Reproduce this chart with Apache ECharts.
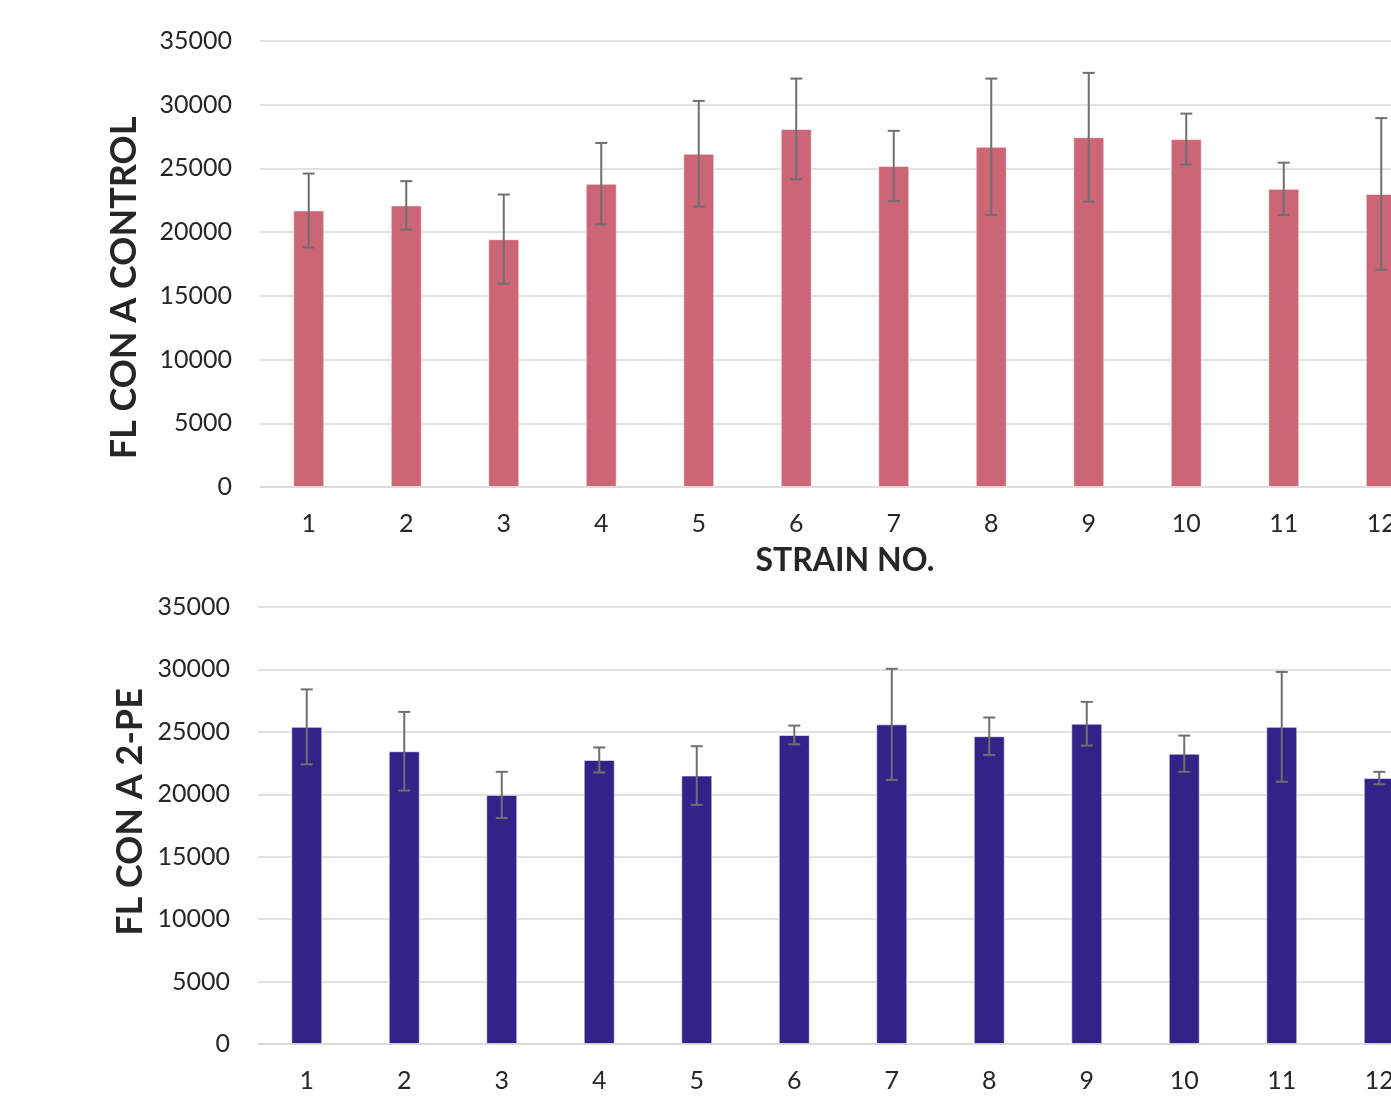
<!DOCTYPE html>
<html>
<head>
<meta charset="utf-8">
<script src="https://cdn.jsdelivr.net/npm/echarts@6/dist/echarts.min.js"></script>
<style>
  html, body { margin: 0; padding: 0; background: #ffffff; }
  #chart { width: 1391px; height: 1106px; }
</style>
</head>
<body>
<div id="chart"></div>
<script>
// Strain numbers on the x axis
const strains = ['1', '2', '3', '4', '5', '6', '7', '8', '9', '10', '11', '12'];
// Fluorescence, Con A control: mean and error (± half-range)
const controlMean = [21700, 22100, 19450, 23800, 26150, 28100, 25200, 26700, 27450, 27300, 23400, 23000];
const controlErr  = [2900, 1900, 3500, 3200, 4150, 3950, 2750, 5350, 5050, 2000, 2050, 5950];
// Fluorescence, Con A with 2-PE: mean and error
const peMean = [25400, 23450, 19950, 22750, 21500, 24750, 25600, 24650, 25650, 23250, 25400, 21300];
const peErr  = [3000, 3150, 1850, 1000, 2350, 750, 4450, 1500, 1750, 1450, 4400, 500];
// y axis scale
const yMin = 0, yMax = 35000, yStep = 5000;

const FONT = 'Lato';
const chart = echarts.init(document.getElementById('chart'), null, { renderer: 'canvas' });

function errData(mean, err) {
  return mean.map((m, i) => [i, m - err[i], m + err[i]]);
}

function renderErr(params, api) {
  const lo = api.coord([api.value(0), api.value(1)]);
  const hi = api.coord([api.value(0), api.value(2)]);
  const half = 6;
  const style = { stroke: '#6f6f6f', lineWidth: 2 };
  return {
    type: 'group',
    children: [
      { type: 'line', shape: { x1: lo[0], y1: lo[1], x2: hi[0], y2: hi[1] }, style },
      { type: 'line', shape: { x1: hi[0] - half, y1: hi[1], x2: hi[0] + half, y2: hi[1] }, style },
      { type: 'line', shape: { x1: lo[0] - half, y1: lo[1], x2: lo[0] + half, y2: lo[1] }, style }
    ]
  };
}

const axisLabel = { fontFamily: FONT, fontSize: 25, color: '#262626' };
const gridLine = { lineStyle: { color: '#d9d9d9', width: 1.5 } };

function xAxis(idx, name) {
  return {
    type: 'category', gridIndex: idx, data: strains,
    axisLine: { show: true, lineStyle: { color: '#d9d9d9', width: 1.5 } },
    axisTick: { show: false },
    axisLabel: Object.assign({ margin: 24 }, axisLabel),
    name: name, nameLocation: 'middle', nameGap: 58,
    nameTextStyle: { fontFamily: FONT, fontWeight: 'bold', fontSize: 32, color: '#262626' }
  };
}
function yAxis(idx) {
  return {
    type: 'value', gridIndex: idx, min: yMin, max: yMax, interval: yStep,
    axisLine: { show: false }, axisTick: { show: false },
    axisLabel: Object.assign({ margin: 28, formatter: v => String(v) }, axisLabel),
    splitLine: gridLine
  };
}

chart.setOption({
  animation: false,
  backgroundColor: '#ffffff',
  // plot area runs past the right edge, so the last strain is cut off
  grid: [
    { left: 260, top: 41, width: 1170, height: 446, outerBoundsMode: 'none', containLabel: false },
    { left: 258, top: 607, width: 1170, height: 437, outerBoundsMode: 'none', containLabel: false }
  ],
  xAxis: [xAxis(0, 'STRAIN NO.'), xAxis(1, '')],
  yAxis: [yAxis(0), yAxis(1)],
  graphic: [
    {
      type: 'text', x: 124, y: 288, rotation: Math.PI / 2,
      style: { text: 'FL CON A CONTROL', fontFamily: FONT, fontWeight: 'bold', fontSize: 36,
               fill: '#262626', align: 'center', verticalAlign: 'middle' }
    },
    {
      type: 'text', x: 130, y: 812, rotation: Math.PI / 2,
      style: { text: 'FL CON A 2-PE', fontFamily: FONT, fontWeight: 'bold', fontSize: 36,
               fill: '#262626', align: 'center', verticalAlign: 'middle' }
    }
  ],
  series: [
    {
      type: 'bar', xAxisIndex: 0, yAxisIndex: 0, data: controlMean, barWidth: 31,
      itemStyle: { color: '#cc6677', borderColor: 'rgba(255,255,255,0.55)', borderWidth: 1 }
    },
    {
      type: 'custom', xAxisIndex: 0, yAxisIndex: 0, data: errData(controlMean, controlErr),
      renderItem: renderErr, z: 5
    },
    {
      type: 'bar', xAxisIndex: 1, yAxisIndex: 1, data: peMean, barWidth: 31,
      itemStyle: { color: '#332288', borderColor: 'rgba(255,255,255,0.55)', borderWidth: 1 }
    },
    {
      type: 'custom', xAxisIndex: 1, yAxisIndex: 1, data: errData(peMean, peErr),
      renderItem: renderErr, z: 5
    }
  ]
});
</script>
</body>
</html>
